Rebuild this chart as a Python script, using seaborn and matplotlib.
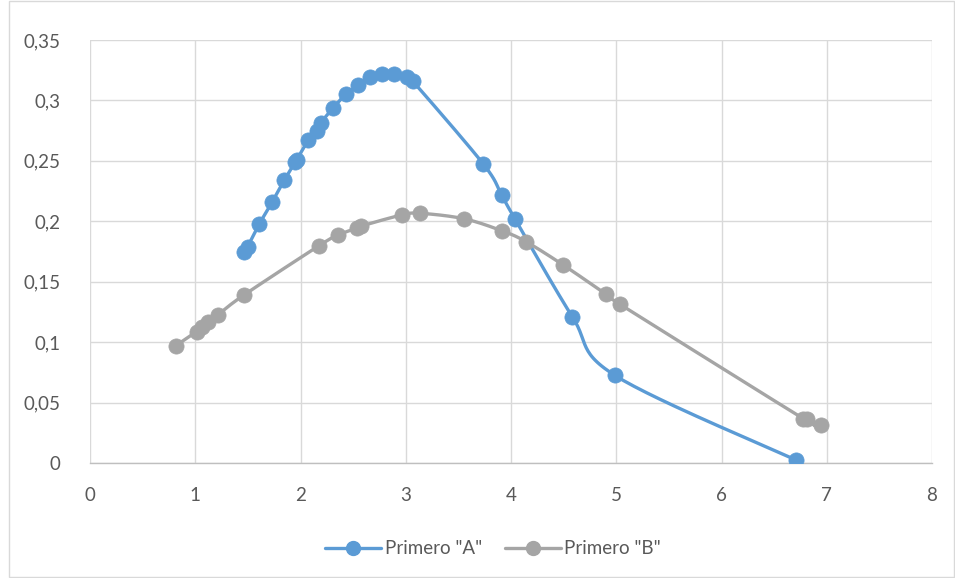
import numpy as np
import pandas as pd
import matplotlib
matplotlib.use("Agg")
import matplotlib.pyplot as plt
import seaborn as sns
from matplotlib.ticker import FuncFormatter, MultipleLocator
from matplotlib.lines import Line2D
from matplotlib.patches import Rectangle

series_names = ['Primero "A"', 'Primero "B"']

x_a = [1.466, 1.498, 1.609, 1.729, 1.846, 1.950, 1.965, 2.074, 2.154, 2.195, 2.312,
       2.430, 2.550, 2.663, 2.777, 2.891, 3.015, 3.066, 3.737, 3.911, 4.038, 4.583,
       4.985, 6.705]
y_a = [0.1745, 0.179, 0.1978, 0.2157, 0.234, 0.249, 0.251, 0.267, 0.2745, 0.2816, 0.294,
       0.305, 0.313, 0.319, 0.3216, 0.3219, 0.319, 0.316, 0.2474, 0.2217, 0.2019, 0.121,
       0.0726, 0.0025]

x_b = [0.814, 1.013, 1.061, 1.124, 1.213, 1.463, 2.176, 2.360, 2.540, 2.575, 2.961,
       3.139, 3.553, 3.918, 4.143, 4.497, 4.900, 5.036, 6.775, 6.815, 6.946]
y_b = [0.097, 0.1087, 0.1123, 0.117, 0.1225, 0.139, 0.1798, 0.1887, 0.1945, 0.196, 0.2052,
       0.2066, 0.2021, 0.192, 0.1831, 0.1638, 0.1398, 0.1313, 0.0368, 0.0362, 0.0314]

colors = ["#5B9BD5", "#A5A5A5"]


def smooth(xs, ys, n=30):
    """Excel-like Bezier smoothing of a polyline (rendering only)."""
    p = np.column_stack([xs, ys]).astype(float)
    out = []
    m = len(p)
    for i in range(m - 1):
        p0 = p[i - 1] if i > 0 else p[i]
        p1 = p[i]
        p2 = p[i + 1]
        p3 = p[i + 2] if i + 2 < m else p[i + 1]
        c1 = p1 + (p2 - p0) / 6.0
        c2 = p2 - (p3 - p1) / 6.0
        t = np.linspace(0, 1, n)[:, None]
        seg = ((1 - t) ** 3) * p1 + 3 * ((1 - t) ** 2) * t * c1 + 3 * (1 - t) * t ** 2 * c2 + t ** 3 * p2
        out.append(seg if i == 0 else seg[1:])
    s = np.vstack(out)
    return s[:, 0], s[:, 1]


sns.set_theme(style="white")
plt.rcParams['font.family'] = ['Lato', 'DejaVu Sans']

fig = plt.figure(figsize=(9.55, 5.78), dpi=100)
ax = fig.add_axes([90 / 955, (578 - 463) / 578, 842 / 955, 423 / 578])

df = pd.concat([
    pd.DataFrame({"x": x_a, "y": y_a, "serie": series_names[0]}),
    pd.DataFrame({"x": x_b, "y": y_b, "serie": series_names[1]}),
], ignore_index=True)

for name, col in zip(series_names, colors):
    sub = df[df["serie"] == name]
    sx, sy = smooth(sub["x"].values, sub["y"].values)
    ax.plot(sx, sy, color=col, lw=2.4, zorder=3, solid_capstyle="round")
    sns.scatterplot(x=sub["x"], y=sub["y"], ax=ax, color=col, s=120, edgecolor=col,
                    linewidth=0.5, zorder=4, legend=False)

ax.set_xlim(0, 8)
ax.set_ylim(0, 0.35)
ax.xaxis.set_major_locator(MultipleLocator(1))
ax.yaxis.set_major_locator(MultipleLocator(0.05))


def comma(v, pos):
    s = ("%.2f" % v).rstrip("0").rstrip(".")
    return s.replace(".", ",")


ax.yaxis.set_major_formatter(FuncFormatter(comma))
ax.xaxis.set_major_formatter(FuncFormatter(lambda v, p: "%d" % v))
ax.grid(True, color="#D9D9D9", lw=1.0)
ax.set_axisbelow(True)
for s in ["top", "right", "left"]:
    ax.spines[s].set_visible(False)
ax.spines["bottom"].set_color("#BFBFBF")
ax.spines["bottom"].set_linewidth(1.0)
ax.tick_params(axis="both", length=0, labelsize=13.5, labelcolor="#595959")
ax.tick_params(axis="x", pad=17)
ax.tick_params(axis="y", pad=21)
ax.set_xlabel("")
ax.set_ylabel("")

handles = [Line2D([0], [0], color=c, lw=2.4, marker="o", markersize=10, markeredgecolor=c)
           for c in colors]
leg = fig.legend(handles, series_names, loc="center", bbox_to_anchor=(493 / 955, 1 - 549 / 578),
                 ncol=2, frameon=False, fontsize=13.5, handlelength=3.0, handletextpad=0.2,
                 columnspacing=1.2)
for t in leg.get_texts():
    t.set_color("#595959")

fig.patches.append(Rectangle((9 / 955, 0.002), 1 - 10 / 955, 0.996, transform=fig.transFigure,
                             fill=False, edgecolor="#D9D9D9", lw=1.0))

fig.savefig("out.png", dpi=100)
